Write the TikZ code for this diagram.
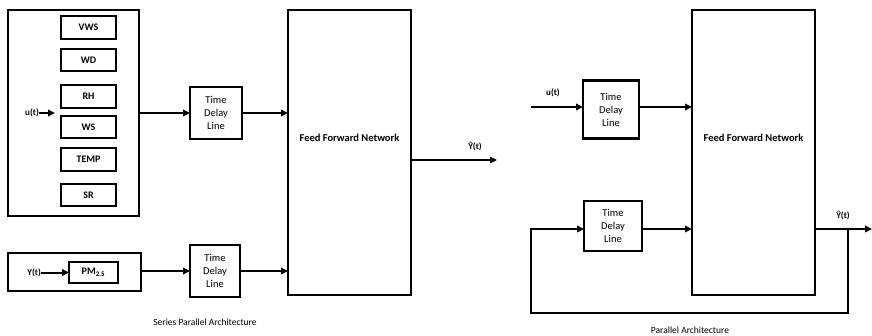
\documentclass[tikz,border=0pt]{standalone}
\usepackage{fontspec}
\setmainfont{Carlito}
\usetikzlibrary{arrows.meta}
\begin{document}
\begin{tikzpicture}[x=1pt,y=-1pt,
  box/.style={draw,line width=2.5pt,inner sep=0pt,outer sep=0pt,align=center,font=\fontsize{10}{12}\selectfont\bfseries},
  outerbox/.style={draw,line width=2.3pt,inner sep=0pt,outer sep=0pt},
  tdl/.style={box,font=\fontsize{10.5}{13}\selectfont},
  bigbox/.style={draw,line width=2.3pt,inner sep=0pt,outer sep=0pt},
  arr/.style={line width=2pt,-{Triangle[length=7pt,width=6.5pt]}},
  ln/.style={line width=2pt},
  lbl/.style={inner sep=0pt,font=\fontsize{9}{11}\selectfont\bfseries},
  ffntext/.style={inner sep=0pt,font=\fontsize{10.5}{12}\selectfont\bfseries},
  captext/.style={inner sep=0pt,font=\fontsize{9.5}{11}\selectfont}]
\useasboundingbox (0,0) rectangle (872,335);
% ---------- Series parallel ----------
\node[outerbox,minimum width=131pt,minimum height=206pt] (outerU) at (73.5,113) {};
\node[box,minimum width=55pt,minimum height=23pt] (vws) at (88.5,27.5) {VWS};
\node[box,minimum width=55pt,minimum height=22pt] (wd) at (88.5,60) {WD};
\node[box,minimum width=55pt,minimum height=23pt] (rh) at (88.5,96.5) {RH};
\node[box,minimum width=55pt,minimum height=22pt] (ws) at (88.5,127) {WS};
\node[box,minimum width=55pt,minimum height=23pt] (temp) at (88.5,159.5) {TEMP};
\node[box,minimum width=55pt,minimum height=22pt] (sr) at (88.5,195) {SR};
\node[lbl,anchor=east] (ut1) at (39,113) {u(t)};
\coordinate (ut1end) at (55,113);
\draw[arr] (ut1.east) -- (ut1end);
\node[tdl,minimum width=52pt,minimum height=52pt] (tdl1) at (216,113) {Time\\Delay\\Line};
\node[bigbox,minimum width=123pt,minimum height=285pt] (ffn1) at (349.5,152.5) {};
\node[ffntext] (ffn1txt) at ([yshift=14.5pt]ffn1.center) {Feed Forward Network};
\draw[arr] (outerU.east |- tdl1.west) -- (tdl1.west);
\draw[arr] (tdl1.east) -- (ffn1.west |- tdl1.east);
\node[outerbox,minimum width=133pt,minimum height=38pt] (outerY) at (74.5,272) {};
\node[box,minimum width=49pt,minimum height=21pt] (pm) at (93.5,272.5) {PM\textsubscript{2.5}};
\node[lbl,anchor=east] (yt) at (41,272.5) {Y(t)};
\draw[arr] (yt.east) -- (pm.west);
\node[tdl,minimum width=50pt,minimum height=52pt] (tdl2) at (215,271) {Time\\Delay\\Line};
\draw[arr] (outerY.east |- tdl2.west) -- (tdl2.west);
\draw[arr] (tdl2.east) -- (ffn1.west |- tdl2.east);
\coordinate (out1) at (497,160);
\draw[arr] (ffn1.east |- out1) -- (out1);
\node[lbl] (yhat1) at (475,146) {Ŷ(t)};
\node[captext] (cap1) at (205,322) {Series Parallel Architecture};
% ---------- Parallel ----------
\node[bigbox,minimum width=123pt,minimum height=285pt] (ffn2) at (753.5,152.5) {};
\node[ffntext] (ffn2txt) at ([yshift=14.5pt]ffn2.center) {Feed Forward Network};
\node[tdl,minimum width=56pt,minimum height=58pt] (tdl3) at (611,109.5) {Time\\Delay\\Line};
\node[tdl,minimum width=58pt,minimum height=50pt] (tdl4) at (613,226) {Time\\Delay\\Line};
\coordinate (uin) at (531,107);
\node[lbl] (ut2) at (553,93) {u(t)};
\draw[arr] (uin) -- (tdl3.west |- uin);
\draw[arr] (tdl3.east |- uin) -- (ffn2.west |- uin);
\coordinate (fb) at (531,229);
\draw[arr] (tdl4.east |- fb) -- (ffn2.west |- fb);
\coordinate (out2) at (872,229);
\coordinate (br) at (848,229);
\coordinate (brd) at (848,313);
\coordinate (bld) at (531,313);
\draw[arr] (ffn2.east |- out2) -- (out2);
\draw[ln] (br) -- (brd) -- (bld) -- (fb);
\draw[arr] (530,229) -- (tdl4.west |- fb);
\node[lbl] (yhat2) at (843,215) {Ŷ(t)};
\node[captext] (cap2) at (690,330) {Parallel Architecture};
\end{tikzpicture}
\end{document}
